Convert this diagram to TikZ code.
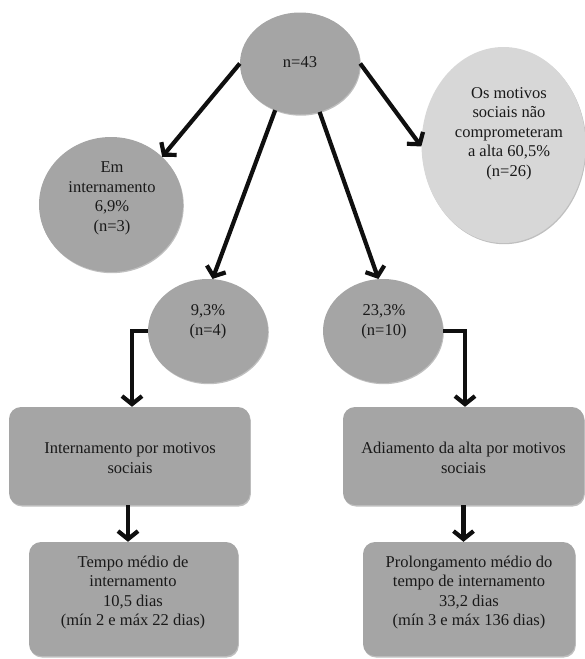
\documentclass[tikz,border=0pt]{standalone}
\usepackage{fontspec}
\setmainfont{Liberation Serif}
\usetikzlibrary{shapes.geometric,arrows.meta,shadows}
\definecolor{midgray}{RGB}{165,165,165}
\definecolor{litegray}{RGB}{215,215,215}
\definecolor{txtgray}{RGB}{25,25,25}
\definecolor{arrowblack}{RGB}{15,15,15}
\begin{document}
\begin{tikzpicture}[x=1pt,y=-1pt,
  oval/.style={ellipse, fill=midgray, inner sep=0pt,
    drop shadow={shadow xshift=0.8pt,shadow yshift=-1.2pt,fill=black,opacity=0.25}},
  liteoval/.style={oval, fill=litegray},
  roundbox/.style={rectangle, rounded corners=12pt, fill=midgray, inner sep=0pt,
    drop shadow={shadow xshift=0.8pt,shadow yshift=-1.5pt,fill=black,opacity=0.25}},
  txt/.style={align=center, font=\fontsize{16.5}{19.6}\selectfont, text=txtgray, inner sep=0pt},
  conn/.style={draw=arrowblack, line width=4.2pt, -{Straight Barb[length=8pt,width=20pt,line width=4.2pt]}}
]
\useasboundingbox (0,0) rectangle (585,659);

% ellipses
\node[oval, minimum width=120pt, minimum height=102pt] (top) at (300,63.5) {};
\node[oval, minimum width=144pt, minimum height=135pt] (emint) at (111,204.5) {};
\node[liteoval, minimum width=164pt, minimum height=196pt] (nao) at (503.5,145) {};
\node[oval, minimum width=120pt, minimum height=104pt] (p93) at (208,331) {};
\node[oval, minimum width=120pt, minimum height=104pt] (p233) at (383,331) {};

% boxes
\node[roundbox, minimum width=241pt, minimum height=98pt] (b1) at (129.5,456) {};
\node[roundbox, minimum width=241pt, minimum height=98pt] (b2) at (463.5,456) {};
\node[roundbox, minimum width=209pt, minimum height=114pt] (b3) at (133.5,599) {};
\node[roundbox, minimum width=212pt, minimum height=114pt] (b4) at (469,599) {};

% texts
\node[txt] (ttop) at (300,62) {n=43};
\node[txt] (temint) at (112,198.5) {Em\\internamento\\6,9\%\\(n=3)};
\node[txt] (tnao) at (509,133.5) {Os motivos\\sociais não\\comprometeram\\a alta 60,5\%\\(n=26)};
\node[txt] (tp93) at (208,321.5) {9,3\%\\(n=4)};
\node[txt] (tp233) at (384,321.5) {23,3\%\\(n=10)};
\node[txt] (tb1) at (130,458) {Internamento por motivos\\sociais};
\node[txt] (tb2) at (463.5,458) {Adiamento da alta por motivos\\sociais};
\node[txt] (tb3) at (133,592.5) {Tempo médio de\\internamento\\10,5 dias\\(mín 2 e máx 22 dias)};
\node[txt] (tb4) at (469,592.5) {Prolongamento médio do\\tempo de internamento\\33,2 dias\\(mín 3 e máx 136 dias)};

% connectors
\draw[conn] (top.west) -- (emint.43);
\draw[conn] (top.242) -- (p93.85);
\draw[conn] (top.292) -- (p233.95);
\draw[conn] (top.east) -- (nao.181);
\coordinate (e1) at ([xshift=2.5pt]b1.north);
\coordinate (e2) at ([xshift=1.5pt]b2.north);
\draw[conn] (p93.west) -| (e1);
\draw[conn] (p233.east) -| (e2);
\coordinate (s1) at ([xshift=-1.5pt]b1.south);
\coordinate (s2) at (b2.south);
\draw[conn] (s1) -- (s1 |- b3.north);
\draw[conn] (s2) -- (s2 |- b4.north);
\end{tikzpicture}
\end{document}
